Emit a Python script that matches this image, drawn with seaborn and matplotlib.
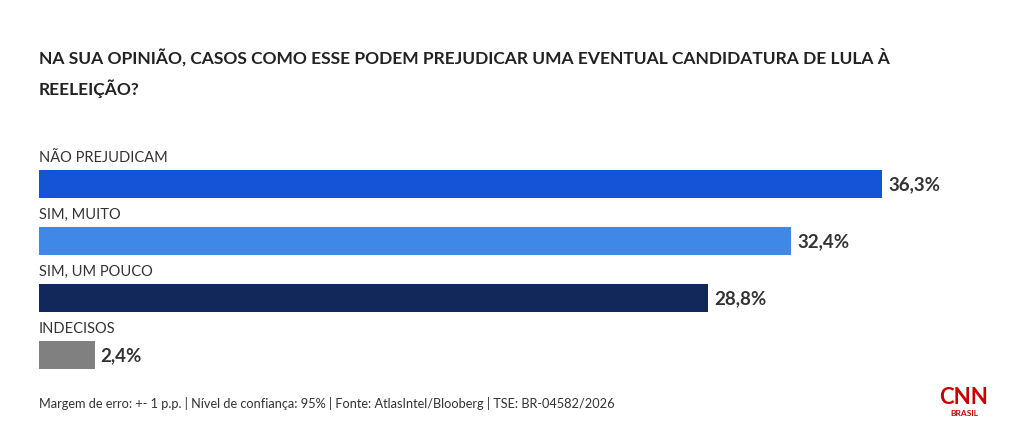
import matplotlib
matplotlib.use("Agg")
import matplotlib.pyplot as plt
import seaborn as sns
import pandas as pd

# data
categories = ["NÃO PREJUDICAM", "SIM, MUITO", "SIM, UM POUCO", "INDECISOS"]
values = [36.3, 32.4, 28.8, 2.4]
value_labels = ["36,3%", "32,4%", "28,8%", "2,4%"]
colors = ["#1554d6", "#3f88e8", "#13285a", "#808080"]

title = "NA SUA OPINIÃO, CASOS COMO ESSE PODEM PREJUDICAR UMA EVENTUAL CANDIDATURA DE LULA À\nREELEIÇÃO?"
footer = "Margem de erro: +- 1 p.p. | Nível de confiança: 95% | Fonte: AtlasIntel/Blooberg | TSE: BR-04582/2026"

sns.set_style("white")
plt.rcParams["font.family"] = ["Lato", "DejaVu Sans"]
text_color = "#333333"

df = pd.DataFrame({"cat": categories, "val": values})

W, H = 1020, 430
fig = plt.figure(figsize=(W / 100, H / 100), dpi=100)

# axes placed in pixel terms: x from 39 to 980, y from 127 to 383.5
left, right = 39, 980
top, bottom = 127, 383.5
ax = fig.add_axes([left / W, 1 - bottom / H, (right - left) / W, (bottom - top) / H])

sns.barplot(data=df, y="cat", x="val", hue="cat", palette=colors, orient="h",
            width=0.49, legend=False, ax=ax, saturation=1, linewidth=0)

px_per_unit = 843 / 36.3
ax.set_xlim(0, (right - left) / px_per_unit)
ax.set_ylim(3.5, -1.0)
ax.axis("off")

for i, (cat, v, lab) in enumerate(zip(categories, values, value_labels)):
    ax.text(0, i - 0.46, cat, va="center", ha="left", fontsize=10.5,
            color=text_color, clip_on=False)
    ax.text(v + 6 / px_per_unit, i + 0.02, lab, va="center", ha="left",
            fontsize=13.5, fontweight="bold", color=text_color, clip_on=False)

fig.text(39 / W, 1 - 73 / H, title, ha="left", va="center", fontsize=12.5,
         fontweight="bold", color="#222222", linespacing=1.8)

fig.text(39 / W, 1 - 404 / H, footer, ha="left", va="center", fontsize=9.2,
         color=text_color)

# CNN Brasil logo as text
fig.text(964 / W, 1 - 397 / H, "CNN", ha="center", va="center", fontsize=16,
         fontweight="bold", color="#cc0000")
fig.text(964 / W, 1 - 414 / H, "BRASIL", ha="center", va="center", fontsize=6,
         fontweight="bold", color="#cc0000")

fig.savefig("out.png", dpi=100, facecolor="white")
